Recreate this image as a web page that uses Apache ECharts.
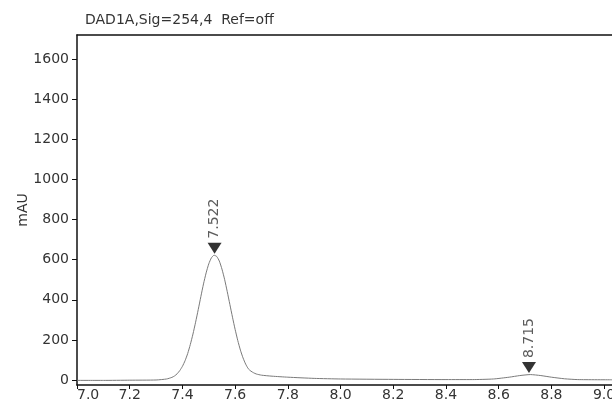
<!DOCTYPE html>
<html>
<head>
<meta charset="utf-8">
<script src="https://cdn.jsdelivr.net/npm/echarts@6/dist/echarts.min.js"></script>
<style>
  html, body { margin: 0; padding: 0; background: #fff; }
  #main { width: 612px; height: 407px; }
</style>
</head>
<body>
<div id="main"></div>
<script>
// retention time (min) and detector signal (mAU)
var times  = [7.00, 7.10, 7.20, 7.30, 7.34, 7.36, 7.37, 7.38, 7.39, 7.40, 7.41, 7.42, 7.43, 7.44,
              7.45, 7.46, 7.47, 7.48, 7.49, 7.50, 7.51, 7.52, 7.53, 7.54, 7.55, 7.56, 7.57, 7.58,
              7.59, 7.60, 7.61, 7.62, 7.63, 7.64, 7.65, 7.66, 7.67, 7.68, 7.70, 7.74, 7.80, 7.90,
              8.00, 8.20, 8.40, 8.50, 8.58, 8.64, 8.68, 8.72, 8.76, 8.80, 8.85, 8.90, 9.03];
var signal = [-2, -2, -1, 0, 5, 13, 20, 31, 47, 68, 96, 132, 177, 229,
              288, 351, 416, 479, 534, 579, 609, 622, 616, 593, 553, 502, 441, 377,
              313, 252, 197, 149, 110, 79, 56, 44, 36, 30, 24, 19, 14, 8,
              5, 3, 2, 2, 5, 14, 22, 27, 22, 14, 6, 2, 1];

// integrated peaks
var peakTimes   = [7.522, 8.715];
var peakHeights = [622, 27];

var xTicks = [7.0, 7.2, 7.4, 7.6, 7.8, 8.0, 8.2, 8.4, 8.6, 8.8, 9.0];
var yTicks = [0, 200, 400, 600, 800, 1000, 1200, 1400, 1600];

var txt = '#333';
var font = 'DejaVu Sans, sans-serif';

var chart = echarts.init(document.getElementById('main'));

var trace = [];
for (var i = 0; i < times.length; i++) {
  trace.push([times[i], signal[i]]);
}
var peaks = [];
for (var j = 0; j < peakTimes.length; j++) {
  peaks.push([peakTimes[j], peakHeights[j]]);
}

var option = {
  backgroundColor: '#fff',
  animation: false,
  textStyle: { fontFamily: font },
  title: {
    text: 'DAD1A,Sig=254,4  Ref=off',
    left: 85,
    top: 13,
    padding: 0,
    textStyle: { fontSize: 14, fontWeight: 'normal', color: txt, fontFamily: font }
  },
  grid: {
    left: 77,
    right: 0,
    top: 35,
    bottom: 22,
    outerBoundsMode: 'none'
  },
  xAxis: [{
    type: 'value',
    min: 7.0,
    max: 9.03,
    splitLine: { show: false },
    axisLine: { onZero: false, lineStyle: { color: '#111', width: 1.5 } },
    axisTick: { length: 4, customValues: xTicks, lineStyle: { color: '#111' } },
    axisLabel: {
      customValues: xTicks,
      margin: 3,
      fontSize: 14,
      color: txt,
      fontFamily: font,
      alignMinLabel: 'left',
      formatter: function (v) { return v.toFixed(1); }
    }
  }, {
    // top frame line
    type: 'value',
    position: 'top',
    min: 7.0,
    max: 9.03,
    splitLine: { show: false },
    axisLine: { onZero: false, lineStyle: { color: '#111', width: 1.5 } },
    axisTick: { show: false },
    axisLabel: { show: false }
  }],
  yAxis: {
    type: 'value',
    min: -25,
    max: 1720,
    name: 'mAU',
    nameLocation: 'middle',
    nameRotate: 90,
    nameGap: 47,
    nameMoveOverlap: false,
    nameTextStyle: { fontSize: 14, color: txt, fontFamily: font },
    splitLine: { show: false },
    axisLine: { onZero: false, lineStyle: { color: '#111', width: 1.5 } },
    axisTick: { length: 5, customValues: yTicks, lineStyle: { color: '#111' } },
    axisLabel: {
      customValues: yTicks,
      margin: 8,
      fontSize: 14,
      color: txt,
      fontFamily: font,
      formatter: function (v) { return String(v); }
    }
  },
  series: [{
    type: 'line',
    data: trace,
    smooth: 0.2,
    showSymbol: false,
    lineStyle: { color: '#7a7a7a', width: 1 },
    z: 2
  }, {
    type: 'scatter',
    data: peaks,
    symbol: 'path://M0,0L14,0L7,11Z',
    symbolSize: [14, 11],
    symbolOffset: [0, -7],
    itemStyle: { color: '#000' },
    label: {
      show: true,
      position: 'top',
      rotate: 90,
      align: 'left',
      verticalAlign: 'middle',
      distance: 4,
      fontSize: 14,
      color: txt,
      fontFamily: font,
      formatter: function (p) { return p.value[0].toFixed(3); }
    },
    z: 3
  }]
};

chart.setOption(option);
</script>
</body>
</html>
